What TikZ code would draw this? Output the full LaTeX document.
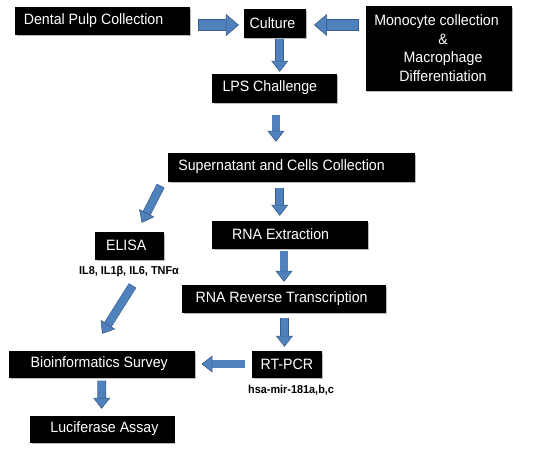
\documentclass[tikz,border=0pt]{standalone}
\usepackage{fontspec}
\setmainfont{Liberation Sans}[FakeStretch=0.945]
\usetikzlibrary{arrows.meta,shadows,calc}
\definecolor{flowfill}{HTML}{4F81BD}
\definecolor{flowedge}{HTML}{385D8A}
\def\sx{0.945}
\begin{document}
\begin{tikzpicture}[x=0.945pt,y=-1pt,
  box/.style={draw=black, fill=black, text=white, inner sep=0pt,
    font=\fontsize{15}{18.7}\selectfont,
    drop shadow={shadow xshift=1.6pt, shadow yshift=-1.6pt, fill=black!50, opacity=0.55}},
  note/.style={font=\fontsize{11.5}{13}\selectfont\bfseries, text=black, inner sep=0pt},
  flow/.style n args={3}{draw=flowfill, line width=#1,
    -{Triangle[width=#2,length=#3,fill=flowfill,color=flowedge,line width=0.6pt]},
    preaction={draw=flowedge, line width=#1+1.2pt, -, shorten >=#3-1pt, shorten <=-0.6pt}},
  small/.style={flow={7.5pt}{17pt}{11pt}},
  big/.style={flow={10pt}{22pt}{13pt}}
]
\useasboundingbox (0,0) rectangle (584.1,456);

% boxes
\node[box, minimum width=\sx*184pt, minimum height=27pt] (dental) at (108,20.5) {Dental Pulp Collection\hspace*{17pt}};
\node[box, minimum width=\sx*65pt, minimum height=28pt] (culture) at (290.5,23) {Culture\hspace*{4pt}};
\node[box, minimum width=\sx*154pt, minimum height=84pt, align=center] (mono) at (464,48)
  {Monocyte collection\hspace*{4pt}\\ \hspace*{9pt}\&\\ \hspace*{9pt}Macrophage\\ \hspace*{9pt}Differentiation};
\node[box, minimum width=\sx*131pt, minimum height=28pt] (lps) at (290.5,88) {LPS Challenge\hspace*{9.5pt}};
\node[box, minimum width=\sx*260pt, minimum height=28pt] (super) at (308,167) {Supernatant and Cells Collection\hspace*{19pt}};
\node[box, minimum width=\sx*72pt, minimum height=27pt] (elisa) at (137,245.5) {ELISA\hspace*{6.6pt}};
\node[box, minimum width=\sx*164pt, minimum height=27pt] (rnaext) at (307,234.5) {RNA Extraction\hspace*{19pt}};
\node[box, minimum width=\sx*215pt, minimum height=27pt] (rt) at (300.5,298.5) {RNA Reverse Transcription\hspace*{4.7pt}};
\node[box, minimum width=\sx*73pt, minimum height=26pt] (rtpcr) at (303.5,364) {RT-PCR};
\node[box, minimum width=\sx*196.5pt, minimum height=26pt] (bio) at (107.75,364) {Bioinformatics Survey\hspace*{5.2pt}};
\node[box, minimum width=\sx*152pt, minimum height=26pt] (luc) at (108,429) {\hspace*{4.7pt}Luciferase Assay};

% notes
\node[note] (il) at (136.5,272) {IL8, IL1β, IL6, TNFα};
\node[note] (hsa) at (308,390) {hsa-mir-181a,b,c};

% arrows
\draw[big] ($(dental.east)+(10,4.5)$) -- ($(culture.west)+(-5,2)$);
\draw[big] ($(mono.west)+(-8,-23)$) -- ($(culture.east)+(9,2)$);
\draw[small] ($(culture.south)+(5.5,2)$) -- ($(lps.north)+(5.5,-2)$);
\draw[small] ($(lps.south)+(1.5,13)$) -- ($(super.north)+(-16,-11)$);
\draw[small] ($(super.south west)+(-8,5)$) -- ($(elisa.north)+(13,-9)$);
\draw[small] ($(super.south)+(-12,7)$) -- ($(rnaext.north)+(-11,-5)$);
\draw[small] ($(rnaext.south)+(-6.5,3)$) -- ($(rt.north)+(0,-3)$);
\draw[small] ($(il.center)+(3.5,14)$) -- ($(bio.north)+(0.25,-17)$);
\draw[small] ($(rt.south)+(0.5,6)$) -- ($(rtpcr.north)+(-2.5,-4)$);
\draw[small] ($(rtpcr.west)+(-8,0)$) -- ($(bio.east)+(7,0)$);
\draw[small] ($(bio.south)+(0,4)$) -- ($(luc.north)+(-0.5,-7)$);
\end{tikzpicture}
\end{document}
